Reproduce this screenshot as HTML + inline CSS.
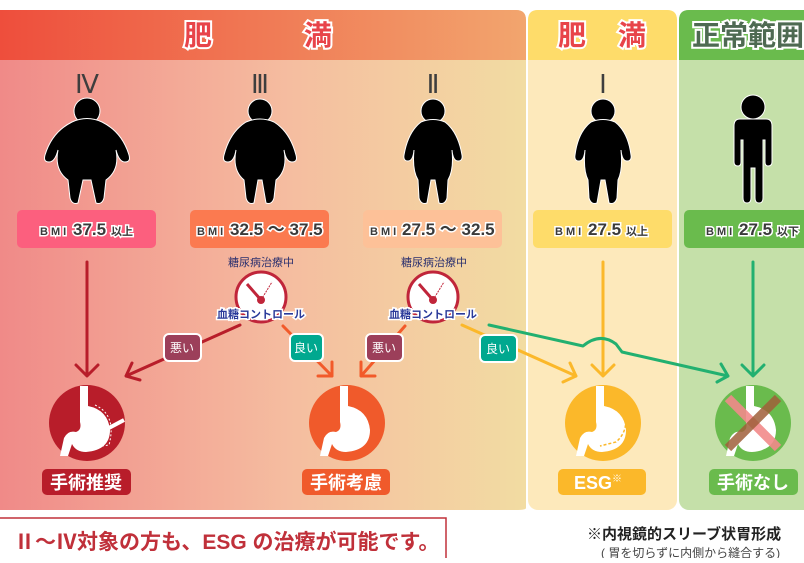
<!DOCTYPE html>
<html><head><meta charset="utf-8"><style>
body{margin:0;width:804px;height:558px;overflow:hidden;background:#fff;font-family:"Liberation Sans","Noto Sans CJK JP",sans-serif}
</style></head><body>
<svg width="804" height="558" viewBox="0 0 804 558" xmlns="http://www.w3.org/2000/svg" font-family="Liberation Sans, Noto Sans CJK JP, sans-serif">
<defs>
<linearGradient id="hg" x1="0" x2="1"><stop offset="0" stop-color="#ee4e3c"/><stop offset="1" stop-color="#f2a56e"/></linearGradient>
<linearGradient id="bg" x1="0" x2="1"><stop offset="0" stop-color="#f08a88"/><stop offset="0.55" stop-color="#f5bda0"/><stop offset="1" stop-color="#f2dca2"/></linearGradient>
</defs>
<!-- panels -->
<path d="M0,10 H516 Q526,10 526,20 V508 Q526,510 516,510 H0Z" fill="url(#bg)"/>
<path d="M0,10 H516 Q526,10 526,20 V60 H0Z" fill="url(#hg)"/>
<rect x="528" y="10" width="149" height="500" rx="10" fill="#fde9bb"/>
<path d="M538,10 H667 Q677,10 677,20 V60 H528 V20 Q528,10 538,10Z" fill="#fedc6a"/>
<rect x="679" y="10" width="140" height="500" rx="10" fill="#c5e0a9"/>
<path d="M689,10 H820 V60 H679 V20 Q679,10 689,10Z" fill="#6abb4d"/>
<g font-weight="bold" font-size="28" stroke="#fff" stroke-width="4" paint-order="stroke" text-anchor="middle">
<text x="198" y="45" fill="#e8444a">肥</text><text x="318" y="45" fill="#e8444a">満</text>
<text x="572" y="45" fill="#e8444a">肥</text><text x="632" y="45" fill="#e8444a">満</text>
<text x="692" y="45" fill="#4e6a52" text-anchor="start">正常範囲</text>
</g>
<g font-size="26" fill="#3e3e3e" text-anchor="middle" style="font-family:'Liberation Serif',serif">
<text x="87" y="93" style="font-family:'Liberation Serif',serif">Ⅳ</text><text x="260" y="93" style="font-family:'Liberation Serif',serif">Ⅲ</text><text x="433" y="93" style="font-family:'Liberation Serif',serif">Ⅱ</text><text x="603" y="93" style="font-family:'Liberation Serif',serif">Ⅰ</text>
</g>
<!-- figures -->
<g fill="#000" stroke="#fff" stroke-width="1">
<circle cx="87" cy="111" r="13"/><path d="M72,122 Q87,115 102,122 Q122,132 129,155 Q131,162 125,162 Q119,162 116,150 Q120,170 106,180 L104,198 Q102,205 96,203 L91,180 L83,180 L78,203 Q72,205 70,198 L68,180 Q54,170 58,150 Q55,162 49,162 Q43,162 45,155 Q52,132 72,122Z"/>
<circle cx="260" cy="111" r="12"/><path d="M246,122 Q260,116 274,122 Q290,132 296,155 Q298,162 292,162 Q286,162 284,150 Q288,170 276,180 L274,198 Q272,205 266,203 L262,180 L258,180 L254,203 Q248,205 246,198 L244,180 Q232,170 236,150 Q234,162 228,162 Q222,162 224,155 Q230,132 246,122Z"/>
<circle cx="433" cy="111" r="12"/><path d="M421,122 Q433,117 445,122 Q458,132 462,155 Q463,161 458,161 Q453,161 452,150 Q454,170 448,180 L447,198 Q445,205 439,203 L435,180 L431,180 L427,203 Q421,205 419,198 L418,180 Q412,170 414,150 Q413,161 408,161 Q403,161 404,155 Q408,132 421,122Z"/>
<circle cx="603" cy="111" r="12"/><path d="M591,122 Q603,117 615,122 Q628,132 631,155 Q632,161 627,161 Q622,161 621,150 Q623,170 618,180 L617,198 Q615,205 609,203 L605,180 L601,180 L597,203 Q591,205 589,198 L588,180 Q583,170 585,150 Q584,161 579,161 Q574,161 575,155 Q578,132 591,122Z"/>
<circle cx="753" cy="107" r="12"/><path d="M740,119 H766 Q772,119 772,126 V162 Q772,166 768,166 Q765,166 765,162 V140 L763,140 V198 Q763,203 759,203 Q755,203 755,198 V168 H751 V198 Q751,203 747,203 Q743,203 743,198 V140 L741,140 V162 Q741,166 738,166 Q734,166 734,162 V126 Q734,119 740,119Z"/>
</g>
<!-- BMI boxes -->
<rect x="17" y="210" width="139" height="38" rx="5" fill="#fc5f7e"/>
<rect x="190" y="210" width="139" height="38" rx="5" fill="#fb7a50"/>
<rect x="363" y="210" width="139" height="38" rx="5" fill="#fdc198"/>
<rect x="533" y="210" width="139" height="38" rx="5" fill="#fedc6a"/>
<rect x="684" y="210" width="140" height="38" rx="5" fill="#6abb4d"/>
<g fill="#3a3a3a" font-weight="bold" stroke="#fff" stroke-width="3" paint-order="stroke">
<text x="40" y="235" font-size="11" letter-spacing="3">BMI</text><text x="73" y="235" font-size="17">37.5</text><text x="111" y="235" font-size="11">以上</text>
<text x="197" y="235" font-size="11" letter-spacing="3">BMI</text><text x="230" y="235" font-size="17">32.5 ～ 37.5</text>
<text x="370" y="235" font-size="11" letter-spacing="3">BMI</text><text x="402" y="235" font-size="17">27.5 ～ 32.5</text>
<text x="555" y="235" font-size="11" letter-spacing="3">BMI</text><text x="588" y="235" font-size="17">27.5</text><text x="626" y="235" font-size="11">以上</text>
<text x="706" y="235" font-size="11" letter-spacing="3">BMI</text><text x="739" y="235" font-size="17">27.5</text><text x="777" y="235" font-size="11">以下</text>
</g>
<!-- arrows -->
<g fill="none" stroke-width="3" stroke-linecap="round" stroke-linejoin="round">
<path d="M87,262 V375 M76,365 L87,376 L98,365" stroke="#b81d2a"/>
<path d="M240,325 L126,376 M140,380 L126,376 L132,363" stroke="#b81d2a"/>
<path d="M283,326 L332,376 M318,376 L332,376 L332,362" stroke="#f25a2a"/>
<path d="M405,326 L361,376 M361,362 L361,376 L375,376" stroke="#f25a2a"/>
<path d="M462,325 L576,376 M563,382 L576,376 L570,363" stroke="#fbb82a"/>
<path d="M603,262 V375 M592,365 L603,376 L614,365" stroke="#fbb82a"/>
<path d="M753,262 V375 M742,365 L753,376 L764,365" stroke="#22b070"/>
<path d="M489,325 L583,346 Q600,332 616,344 L622,352 L728,376 M717,382 L728,376 L721,364" stroke="#22b070"/>
</g>
<!-- gauges -->
<g>
<text x="261" y="266" font-size="11" fill="#2a2f6e" text-anchor="middle">糖尿病治療中</text>
<circle cx="261" cy="297" r="25" fill="#fff" stroke="#c0253a" stroke-width="3"/>
<path d="M247,284 L261,300" stroke="#c0253a" stroke-width="3"/><circle cx="261" cy="300" r="4" fill="#c0253a"/>
<path d="M261,300 L272,282" stroke="#c0253a" stroke-dasharray="2 1"/>
<text x="434" y="266" font-size="11" fill="#2a2f6e" text-anchor="middle">糖尿病治療中</text>
<circle cx="433" cy="297" r="25" fill="#fff" stroke="#c0253a" stroke-width="3"/>
<path d="M419,284 L433,300" stroke="#c0253a" stroke-width="3"/><circle cx="433" cy="300" r="4" fill="#c0253a"/>
<path d="M433,300 L444,282" stroke="#c0253a" stroke-dasharray="2 1"/>
<g font-size="11" font-weight="bold" fill="#2a3a9a" stroke="#fff" stroke-width="3" paint-order="stroke" text-anchor="middle">
<text x="261" y="318">血糖コントロール</text><text x="433" y="318">血糖コントロール</text></g>
</g>
<!-- labels -->
<g stroke="#fff" stroke-width="2">
<rect x="164" y="334" width="37" height="27" rx="5" fill="#9c3f5a"/>
<rect x="290" y="334" width="33" height="27" rx="5" fill="#00a88f"/>
<rect x="366" y="334" width="37" height="27" rx="5" fill="#9c3f5a"/>
<rect x="480" y="335" width="37" height="27" rx="5" fill="#00a88f"/>
</g>
<g fill="#fff" font-size="12" text-anchor="middle">
<text x="182" y="352">悪い</text><text x="306" y="352">良い</text><text x="384" y="352">悪い</text><text x="498" y="353">良い</text>
</g>
<!-- circles -->
<circle cx="87" cy="423" r="38" fill="#b81d2a"/>
<circle cx="347" cy="423" r="38" fill="#f05a2b"/>
<circle cx="603" cy="423" r="38" fill="#fbb82a"/>
<circle cx="753" cy="423" r="38" fill="#6abb4d"/>
<g fill="#fff">
<path d="M80,386 h8 v20 q20,4 22,24 q0,20 -24,22 q-10,0 -14,-8 l-4,12 h-8 l4,-18 q4,-8 12,-6 q6,-2 4,-10 Z"/>
<path d="M340,386 h8 v20 q20,4 22,24 q0,20 -24,22 q-10,0 -14,-8 l-4,12 h-8 l4,-18 q4,-8 12,-6 q6,-2 4,-10 Z"/>
<path d="M596,386 h8 v20 q20,4 22,24 q0,20 -24,22 q-10,0 -14,-8 l-4,12 h-8 l4,-18 q4,-8 12,-6 q6,-2 4,-10 Z"/>
<path d="M746,386 h8 v20 q20,4 22,24 q0,20 -24,22 q-10,0 -14,-8 l-4,12 h-8 l4,-18 q4,-8 12,-6 q6,-2 4,-10 Z"/>
</g>
<path d="M95,405 q22,10 14,40 l-14,2" fill="none" stroke="#fff" stroke-dasharray="2 2"/>
<path d="M90,438 L124,420" stroke="#fff" stroke-width="4"/>
<path d="M624,410 q6,20 -8,32 l-16,4" fill="none" stroke="#fbb82a" stroke-width="1.5" stroke-dasharray="3 2"/>
<path d="M728,398 L778,448" stroke="#f28a8a" stroke-width="9" opacity="0.9"/>
<path d="M778,398 L728,448" stroke="#a0603a" stroke-width="9" opacity="0.85"/>
<!-- result labels -->
<rect x="42" y="469" width="89" height="26" rx="5" fill="#b81d2a"/>
<rect x="302" y="469" width="88" height="26" rx="5" fill="#f05a2b"/>
<rect x="558" y="469" width="88" height="26" rx="5" fill="#fbb82a"/>
<rect x="709" y="469" width="89" height="26" rx="5" fill="#6abb4d"/>
<g fill="#fff" font-size="18" font-weight="bold" text-anchor="middle">
<text x="86" y="489">手術推奨</text><text x="346" y="489">手術考慮</text><text x="598" y="489">ESG<tspan font-size="10" dy="-7">※</tspan></text><text x="753" y="489">手術なし</text>
</g>
<!-- bottom -->
<rect x="-2" y="518" width="448" height="44" fill="none" stroke="#c0303a" stroke-width="1.5"/>
<text x="14" y="549" font-size="21" font-weight="bold" fill="#c0303a">Ⅱ～Ⅳ対象の方も、ESG の治療が可能です。</text>
<text x="587" y="539" font-size="15" font-weight="bold" fill="#222">※内視鏡的スリーブ状胃形成</text>
<text x="601" y="557" font-size="12" fill="#444">( 胃を切らずに内側から縫合する)</text>
</svg>
</body></html>
